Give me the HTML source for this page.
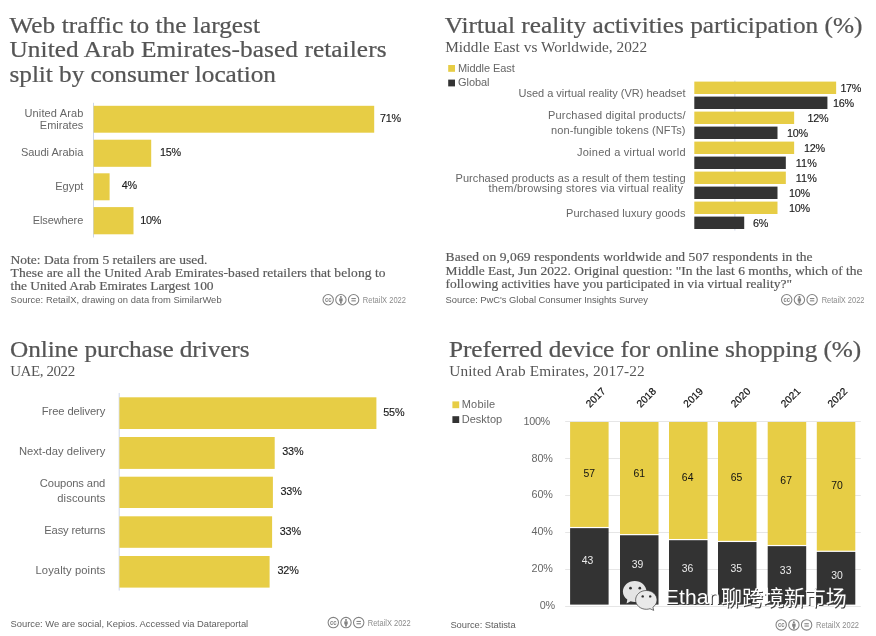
<!DOCTYPE html>
<html lang="en">
<head>
<meta charset="utf-8">
<title>UAE ecommerce charts</title>
<style>
html,body{margin:0;padding:0;background:#ffffff;}
body{width:876px;height:636px;overflow:hidden;}
svg{display:block;}
text{white-space:pre;}
.t{font-family:"Liberation Serif","DejaVu Serif",serif;}
.s{font-family:"Liberation Sans","DejaVu Sans",sans-serif;}
.wm{font-family:"Liberation Sans","Noto Sans CJK SC","WenQuanYi Zen Hei",sans-serif;}
</style>
</head>
<body>
<svg width="876" height="636" viewBox="0 0 876 636">
<rect x="0" y="0" width="876" height="636" fill="#ffffff"/>
<g id="panel-web-traffic">
<text class="t" transform="translate(9.50,32.70) scale(1,0.94)" x="0" y="0" font-size="25.3" fill="#555555" stroke="#555555" stroke-width="0.25" textLength="250.5" lengthAdjust="spacing">Web traffic to the largest</text>
<text class="t" transform="translate(9.50,57.20) scale(1,0.94)" x="0" y="0" font-size="25.3" fill="#555555" stroke="#555555" stroke-width="0.25" textLength="377.0" lengthAdjust="spacing">United Arab Emirates-based retailers</text>
<text class="t" transform="translate(9.50,81.80) scale(1,0.94)" x="0" y="0" font-size="25.3" fill="#555555" stroke="#555555" stroke-width="0.25" textLength="266.5" lengthAdjust="spacing">split by consumer location</text>
<line x1="93.50" y1="102.80" x2="93.50" y2="237.50" stroke="#ccd6eb" stroke-width="1"/>
<rect x="93.60" y="105.80" width="280.60" height="26.90" fill="#e7cd45"/>
<text class="s" x="380.00" y="121.50" font-size="10.8" fill="#1c1c1c" textLength="21.0" lengthAdjust="spacing" stroke="#1c1c1c" stroke-width="0.15">71%</text>
<rect x="93.60" y="139.70" width="57.60" height="27.10" fill="#e7cd45"/>
<text class="s" x="160.00" y="155.50" font-size="10.8" fill="#1c1c1c" textLength="21.0" lengthAdjust="spacing" stroke="#1c1c1c" stroke-width="0.15">15%</text>
<rect x="93.60" y="173.30" width="16.00" height="27.00" fill="#e7cd45"/>
<text class="s" x="121.70" y="189.10" font-size="10.8" fill="#1c1c1c" textLength="15.4" lengthAdjust="spacing" stroke="#1c1c1c" stroke-width="0.15">4%</text>
<rect x="93.60" y="207.10" width="39.90" height="27.20" fill="#e7cd45"/>
<text class="s" x="140.30" y="224.00" font-size="10.8" fill="#1c1c1c" textLength="21.0" lengthAdjust="spacing" stroke="#1c1c1c" stroke-width="0.15">10%</text>
<text class="s" x="24.50" y="117.30" font-size="11" fill="#666666" textLength="58.8" lengthAdjust="spacing">United Arab</text>
<text class="s" x="39.80" y="128.90" font-size="11" fill="#666666" textLength="43.5" lengthAdjust="spacing">Emirates</text>
<text class="s" x="20.90" y="156.40" font-size="11" fill="#666666" textLength="62.4" lengthAdjust="spacing">Saudi Arabia</text>
<text class="s" x="55.30" y="189.90" font-size="11" fill="#666666" textLength="28.0" lengthAdjust="spacing">Egypt</text>
<text class="s" x="32.70" y="223.70" font-size="11" fill="#666666" textLength="50.6" lengthAdjust="spacing">Elsewhere</text>
<text class="t" x="10.60" y="263.50" font-size="13.5" fill="#5a5a5a" textLength="196.7" lengthAdjust="spacing" stroke="#5a5a5a" stroke-width="0.2">Note: Data from 5 retailers are used.</text>
<text class="t" x="10.60" y="276.70" font-size="13.5" fill="#5a5a5a" textLength="375.0" lengthAdjust="spacing" stroke="#5a5a5a" stroke-width="0.2">These are all the United Arab Emirates-based retailers that belong to</text>
<text class="t" x="10.60" y="289.80" font-size="13.5" fill="#5a5a5a" textLength="203.0" lengthAdjust="spacing" stroke="#5a5a5a" stroke-width="0.2">the United Arab Emirates Largest 100</text>
<text class="s" x="10.60" y="302.80" font-size="9.4" fill="#606060" textLength="211.0" lengthAdjust="spacing">Source: RetailX, drawing on data from SimilarWeb</text>
<g fill="none" stroke="#828282" stroke-width="1.05">
<circle cx="328.20" cy="299.70" r="5.2"/>
<circle cx="340.90" cy="299.70" r="5.2"/>
<circle cx="353.60" cy="299.70" r="5.2"/>
</g>
<text class="s" x="324.90" y="301.70" font-size="6.6" font-weight="bold" fill="#828282" textLength="6.6" lengthAdjust="spacingAndGlyphs">cc</text>
<g fill="#828282"><circle cx="340.90" cy="297.10" r="1.0"/><rect x="339.20" y="298.30" width="3.4" height="3.3" rx="0.5"/><rect x="340.00" y="301.20" width="1.8" height="2.4"/></g>
<g fill="#828282"><rect x="351.40" y="298.00" width="4.4" height="1.1"/><rect x="351.40" y="300.30" width="4.4" height="1.1"/></g>
<text class="s" x="362.80" y="302.80" font-size="9.0" fill="#8c8c8c" textLength="43.2" lengthAdjust="spacingAndGlyphs">RetailX 2022</text>
</g>
<g id="panel-vr">
<text class="t" transform="translate(444.80,33.20) scale(1,0.94)" x="0" y="0" font-size="25.3" fill="#555555" stroke="#555555" stroke-width="0.25" textLength="417.7" lengthAdjust="spacing">Virtual reality activities participation (%)</text>
<text class="t" x="445.20" y="52.00" font-size="15.3" fill="#555555" textLength="202.0" lengthAdjust="spacing">Middle East vs Worldwide, 2022</text>
<rect x="448.20" y="65.00" width="6.80" height="6.80" fill="#e7cd45"/>
<text class="s" x="458.00" y="72.30" font-size="11" fill="#666666" textLength="56.8" lengthAdjust="spacing">Middle East</text>
<rect x="448.20" y="79.60" width="6.80" height="6.80" fill="#333333"/>
<text class="s" x="458.00" y="86.30" font-size="11" fill="#666666" textLength="31.5" lengthAdjust="spacing">Global</text>
<line x1="734.90" y1="80.60" x2="734.90" y2="230.50" stroke="#cbd5ec" stroke-width="1"/>
<rect x="694.30" y="81.60" width="141.84" height="12.40" fill="#e7cd45"/>
<text class="s" x="840.40" y="92.00" font-size="10.8" fill="#1c1c1c" textLength="21.0" lengthAdjust="spacing" stroke="#1c1c1c" stroke-width="0.15">17%</text>
<rect x="694.30" y="96.60" width="133.12" height="12.40" fill="#333333"/>
<text class="s" x="833.00" y="107.00" font-size="10.8" fill="#1c1c1c" textLength="21.0" lengthAdjust="spacing" stroke="#1c1c1c" stroke-width="0.15">16%</text>
<rect x="694.30" y="111.60" width="99.84" height="12.40" fill="#e7cd45"/>
<text class="s" x="807.60" y="122.00" font-size="10.8" fill="#1c1c1c" textLength="21.0" lengthAdjust="spacing" stroke="#1c1c1c" stroke-width="0.15">12%</text>
<rect x="694.30" y="126.60" width="83.20" height="12.40" fill="#333333"/>
<text class="s" x="787.00" y="137.00" font-size="10.8" fill="#1c1c1c" textLength="21.0" lengthAdjust="spacing" stroke="#1c1c1c" stroke-width="0.15">10%</text>
<rect x="694.30" y="141.60" width="99.84" height="12.40" fill="#e7cd45"/>
<text class="s" x="804.00" y="152.00" font-size="10.8" fill="#1c1c1c" textLength="21.0" lengthAdjust="spacing" stroke="#1c1c1c" stroke-width="0.15">12%</text>
<rect x="694.30" y="156.60" width="91.52" height="12.40" fill="#333333"/>
<text class="s" x="795.80" y="167.00" font-size="10.8" fill="#1c1c1c" textLength="21.0" lengthAdjust="spacing" stroke="#1c1c1c" stroke-width="0.15">11%</text>
<rect x="694.30" y="171.60" width="91.52" height="12.40" fill="#e7cd45"/>
<text class="s" x="795.80" y="182.00" font-size="10.8" fill="#1c1c1c" textLength="21.0" lengthAdjust="spacing" stroke="#1c1c1c" stroke-width="0.15">11%</text>
<rect x="694.30" y="186.60" width="83.20" height="12.40" fill="#333333"/>
<text class="s" x="789.00" y="197.00" font-size="10.8" fill="#1c1c1c" textLength="21.0" lengthAdjust="spacing" stroke="#1c1c1c" stroke-width="0.15">10%</text>
<rect x="694.30" y="201.60" width="83.20" height="12.40" fill="#e7cd45"/>
<text class="s" x="789.00" y="212.00" font-size="10.8" fill="#1c1c1c" textLength="21.0" lengthAdjust="spacing" stroke="#1c1c1c" stroke-width="0.15">10%</text>
<rect x="694.30" y="216.60" width="49.92" height="12.40" fill="#333333"/>
<text class="s" x="753.00" y="227.00" font-size="10.8" fill="#1c1c1c" textLength="15.4" lengthAdjust="spacing" stroke="#1c1c1c" stroke-width="0.15">6%</text>
<text class="s" x="518.50" y="97.00" font-size="11" fill="#666666" textLength="167.0" lengthAdjust="spacing">Used a virtual reality (VR) headset</text>
<text class="s" x="548.00" y="119.00" font-size="11" fill="#666666" textLength="137.5" lengthAdjust="spacing">Purchased digital products/</text>
<text class="s" x="551.00" y="133.80" font-size="11" fill="#666666" textLength="134.5" lengthAdjust="spacing">non-fungible tokens (NFTs)</text>
<text class="s" x="577.00" y="156.00" font-size="11" fill="#666666" textLength="108.5" lengthAdjust="spacing">Joined a virtual world</text>
<text class="s" x="455.50" y="181.60" font-size="11" fill="#666666" textLength="230.0" lengthAdjust="spacing">Purchased products as a result of them testing</text>
<text class="s" x="488.40" y="192.40" font-size="11" fill="#666666" textLength="194.6" lengthAdjust="spacing">them/browsing stores via virtual reality</text>
<text class="s" x="566.00" y="217.00" font-size="11" fill="#666666" textLength="119.5" lengthAdjust="spacing">Purchased luxury goods</text>
<text class="t" x="445.60" y="261.40" font-size="13.5" fill="#5a5a5a" textLength="367.0" lengthAdjust="spacing" stroke="#5a5a5a" stroke-width="0.2">Based on 9,069 respondents worldwide and 507 respondents in the</text>
<text class="t" x="445.60" y="274.70" font-size="13.5" fill="#5a5a5a" textLength="417.0" lengthAdjust="spacing" stroke="#5a5a5a" stroke-width="0.2">Middle East, Jun 2022. Original question: "In the last 6 months, which of the</text>
<text class="t" x="445.60" y="288.40" font-size="13.5" fill="#5a5a5a" textLength="346.4" lengthAdjust="spacing" stroke="#5a5a5a" stroke-width="0.2">following activities have you participated in via virtual reality?"</text>
<text class="s" x="445.60" y="302.80" font-size="9.4" fill="#606060" textLength="202.4" lengthAdjust="spacing">Source: PwC's Global Consumer Insights Survey</text>
<g fill="none" stroke="#828282" stroke-width="1.05">
<circle cx="786.70" cy="299.70" r="5.2"/>
<circle cx="799.40" cy="299.70" r="5.2"/>
<circle cx="812.10" cy="299.70" r="5.2"/>
</g>
<text class="s" x="783.40" y="301.70" font-size="6.6" font-weight="bold" fill="#828282" textLength="6.6" lengthAdjust="spacingAndGlyphs">cc</text>
<g fill="#828282"><circle cx="799.40" cy="297.10" r="1.0"/><rect x="797.70" y="298.30" width="3.4" height="3.3" rx="0.5"/><rect x="798.50" y="301.20" width="1.8" height="2.4"/></g>
<g fill="#828282"><rect x="809.90" y="298.00" width="4.4" height="1.1"/><rect x="809.90" y="300.30" width="4.4" height="1.1"/></g>
<text class="s" x="821.70" y="302.80" font-size="9.0" fill="#8c8c8c" textLength="42.8" lengthAdjust="spacingAndGlyphs">RetailX 2022</text>
</g>
<g id="panel-drivers">
<text class="t" transform="translate(10.00,356.60) scale(1,0.94)" x="0" y="0" font-size="25.3" fill="#555555" stroke="#555555" stroke-width="0.25" textLength="239.5" lengthAdjust="spacing">Online purchase drivers</text>
<text class="t" x="10.20" y="375.80" font-size="15.0" fill="#555555" textLength="65.0" lengthAdjust="spacing">UAE, 2022</text>
<line x1="119.20" y1="393.00" x2="119.20" y2="590.60" stroke="#ccd6eb" stroke-width="1"/>
<rect x="119.40" y="397.30" width="257.00" height="31.70" fill="#e7cd45"/>
<text class="s" x="383.20" y="415.65" font-size="10.8" fill="#1c1c1c" textLength="21.4" lengthAdjust="spacing" stroke="#1c1c1c" stroke-width="0.15">55%</text>
<text class="s" x="41.80" y="415.25" font-size="11.2" fill="#666666" textLength="63.5" lengthAdjust="spacing">Free delivery</text>
<rect x="119.40" y="437.00" width="155.30" height="31.90" fill="#e7cd45"/>
<text class="s" x="282.20" y="455.45" font-size="10.8" fill="#1c1c1c" textLength="21.4" lengthAdjust="spacing" stroke="#1c1c1c" stroke-width="0.15">33%</text>
<text class="s" x="18.90" y="455.05" font-size="11.2" fill="#666666" textLength="86.4" lengthAdjust="spacing">Next-day delivery</text>
<rect x="119.40" y="476.70" width="153.50" height="31.30" fill="#e7cd45"/>
<text class="s" x="280.40" y="494.85" font-size="10.8" fill="#1c1c1c" textLength="21.4" lengthAdjust="spacing" stroke="#1c1c1c" stroke-width="0.15">33%</text>
<rect x="119.40" y="516.30" width="152.70" height="31.50" fill="#e7cd45"/>
<text class="s" x="279.70" y="534.55" font-size="10.8" fill="#1c1c1c" textLength="21.4" lengthAdjust="spacing" stroke="#1c1c1c" stroke-width="0.15">33%</text>
<text class="s" x="44.30" y="534.15" font-size="11.2" fill="#666666" textLength="61.0" lengthAdjust="spacing">Easy returns</text>
<rect x="119.40" y="556.00" width="150.20" height="31.60" fill="#e7cd45"/>
<text class="s" x="277.40" y="574.30" font-size="10.8" fill="#1c1c1c" textLength="21.4" lengthAdjust="spacing" stroke="#1c1c1c" stroke-width="0.15">32%</text>
<text class="s" x="35.50" y="573.90" font-size="11.2" fill="#666666" textLength="69.8" lengthAdjust="spacing">Loyalty points</text>
<text class="s" x="39.80" y="487.20" font-size="11.2" fill="#666666" textLength="65.5" lengthAdjust="spacing">Coupons and</text>
<text class="s" x="57.30" y="501.80" font-size="11.2" fill="#666666" textLength="48.0" lengthAdjust="spacing">discounts</text>
<text class="s" x="10.60" y="627.00" font-size="9.4" fill="#606060" textLength="237.6" lengthAdjust="spacing">Source: We are social, Kepios. Accessed via Datareportal</text>
<g fill="none" stroke="#828282" stroke-width="1.05">
<circle cx="333.30" cy="622.60" r="5.2"/>
<circle cx="346.00" cy="622.60" r="5.2"/>
<circle cx="358.70" cy="622.60" r="5.2"/>
</g>
<text class="s" x="330.00" y="624.60" font-size="6.6" font-weight="bold" fill="#828282" textLength="6.6" lengthAdjust="spacingAndGlyphs">cc</text>
<g fill="#828282"><circle cx="346.00" cy="620.00" r="1.0"/><rect x="344.30" y="621.20" width="3.4" height="3.3" rx="0.5"/><rect x="345.10" y="624.10" width="1.8" height="2.4"/></g>
<g fill="#828282"><rect x="356.50" y="620.90" width="4.4" height="1.1"/><rect x="356.50" y="623.20" width="4.4" height="1.1"/></g>
<text class="s" x="367.80" y="625.70" font-size="9.0" fill="#8c8c8c" textLength="42.9" lengthAdjust="spacingAndGlyphs">RetailX 2022</text>
</g>
<g id="panel-device">
<text class="t" transform="translate(449.00,357.00) scale(1,0.94)" x="0" y="0" font-size="25.3" fill="#555555" stroke="#555555" stroke-width="0.25" textLength="412.3" lengthAdjust="spacing">Preferred device for online shopping (%)</text>
<text class="t" x="449.20" y="375.90" font-size="15.3" fill="#555555" textLength="195.5" lengthAdjust="spacing">United Arab Emirates, 2017-22</text>
<rect x="452.40" y="401.40" width="6.80" height="6.80" fill="#e7cd45"/>
<text class="s" x="461.70" y="408.30" font-size="11" fill="#666666" textLength="33.5" lengthAdjust="spacing">Mobile</text>
<rect x="452.40" y="416.20" width="6.80" height="6.80" fill="#333333"/>
<text class="s" x="461.70" y="423.40" font-size="11" fill="#666666" textLength="40.5" lengthAdjust="spacing">Desktop</text>
<line x1="565.20" y1="421.50" x2="860.80" y2="421.50" stroke="#e6e6e6" stroke-width="1"/>
<text class="s" x="523.50" y="424.80" font-size="10.8" fill="#666666" textLength="26.7" lengthAdjust="spacing">100%</text>
<line x1="565.20" y1="458.50" x2="860.80" y2="458.50" stroke="#e6e6e6" stroke-width="1"/>
<text class="s" x="531.60" y="461.62" font-size="10.8" fill="#666666" textLength="21.2" lengthAdjust="spacing">80%</text>
<line x1="565.20" y1="495.50" x2="860.80" y2="495.50" stroke="#e6e6e6" stroke-width="1"/>
<text class="s" x="531.60" y="498.44" font-size="10.8" fill="#666666" textLength="21.2" lengthAdjust="spacing">60%</text>
<line x1="565.20" y1="532.50" x2="860.80" y2="532.50" stroke="#e6e6e6" stroke-width="1"/>
<text class="s" x="531.60" y="535.26" font-size="10.8" fill="#666666" textLength="21.2" lengthAdjust="spacing">40%</text>
<line x1="565.20" y1="569.50" x2="860.80" y2="569.50" stroke="#e6e6e6" stroke-width="1"/>
<text class="s" x="531.60" y="572.08" font-size="10.8" fill="#666666" textLength="21.2" lengthAdjust="spacing">20%</text>
<line x1="565.20" y1="606.50" x2="860.80" y2="606.50" stroke="#e6e6e6" stroke-width="1"/>
<text class="s" x="539.80" y="608.90" font-size="10.8" fill="#666666" textLength="15.4" lengthAdjust="spacing">0%</text>
<rect x="570.10" y="422.00" width="38.50" height="104.95" fill="#e7cd45"/>
<rect x="570.10" y="528.15" width="38.50" height="76.45" fill="#333333"/>
<text class="s" x="589.35" y="476.70" font-size="10.4" fill="#111111" text-anchor="middle">57</text>
<text class="s" x="587.55" y="563.70" font-size="10.4" fill="#ebebeb" text-anchor="middle">43</text>
<text class="s" font-size="10.3" fill="#111111" stroke="#111111" stroke-width="0.2" text-anchor="middle" transform="translate(595.5,397.4) rotate(-45)" x="0" y="3.7">2017</text>
<rect x="620.00" y="422.00" width="38.50" height="112.05" fill="#e7cd45"/>
<rect x="620.00" y="535.25" width="38.50" height="69.35" fill="#333333"/>
<text class="s" x="639.25" y="476.70" font-size="10.4" fill="#111111" text-anchor="middle">61</text>
<text class="s" x="637.45" y="567.70" font-size="10.4" fill="#ebebeb" text-anchor="middle">39</text>
<text class="s" font-size="10.3" fill="#111111" stroke="#111111" stroke-width="0.2" text-anchor="middle" transform="translate(646.2,397.4) rotate(-45)" x="0" y="3.7">2018</text>
<rect x="669.00" y="422.00" width="38.50" height="117.00" fill="#e7cd45"/>
<rect x="669.00" y="540.20" width="38.50" height="64.40" fill="#333333"/>
<text class="s" x="687.65" y="480.70" font-size="10.4" fill="#111111" text-anchor="middle">64</text>
<text class="s" x="687.55" y="571.70" font-size="10.4" fill="#ebebeb" text-anchor="middle">36</text>
<text class="s" font-size="10.3" fill="#111111" stroke="#111111" stroke-width="0.2" text-anchor="middle" transform="translate(693.1,397.4) rotate(-45)" x="0" y="3.7">2019</text>
<rect x="718.00" y="422.00" width="38.50" height="118.85" fill="#e7cd45"/>
<rect x="718.00" y="542.05" width="38.50" height="62.55" fill="#333333"/>
<text class="s" x="736.45" y="480.70" font-size="10.4" fill="#111111" text-anchor="middle">65</text>
<text class="s" x="736.35" y="571.70" font-size="10.4" fill="#ebebeb" text-anchor="middle">35</text>
<text class="s" font-size="10.3" fill="#111111" stroke="#111111" stroke-width="0.2" text-anchor="middle" transform="translate(740.5,397.4) rotate(-45)" x="0" y="3.7">2020</text>
<rect x="767.70" y="422.00" width="38.50" height="122.95" fill="#e7cd45"/>
<rect x="767.70" y="546.15" width="38.50" height="58.45" fill="#333333"/>
<text class="s" x="786.15" y="484.20" font-size="10.4" fill="#111111" text-anchor="middle">67</text>
<text class="s" x="785.65" y="574.20" font-size="10.4" fill="#ebebeb" text-anchor="middle">33</text>
<text class="s" font-size="10.3" fill="#111111" stroke="#111111" stroke-width="0.2" text-anchor="middle" transform="translate(790.5,397.4) rotate(-45)" x="0" y="3.7">2021</text>
<rect x="816.80" y="422.00" width="38.50" height="128.70" fill="#e7cd45"/>
<rect x="816.80" y="551.90" width="38.50" height="52.70" fill="#333333"/>
<text class="s" x="837.05" y="489.30" font-size="10.4" fill="#111111" text-anchor="middle">70</text>
<text class="s" x="837.05" y="578.70" font-size="10.4" fill="#ebebeb" text-anchor="middle">30</text>
<text class="s" font-size="10.3" fill="#111111" stroke="#111111" stroke-width="0.2" text-anchor="middle" transform="translate(837.3,397.4) rotate(-45)" x="0" y="3.7">2022</text>
<text class="s" x="450.40" y="628.40" font-size="9.4" fill="#606060" textLength="65.2" lengthAdjust="spacing">Source: Statista</text>
<g fill="none" stroke="#828282" stroke-width="1.05">
<circle cx="781.20" cy="624.90" r="5.2"/>
<circle cx="793.90" cy="624.90" r="5.2"/>
<circle cx="806.60" cy="624.90" r="5.2"/>
</g>
<text class="s" x="777.90" y="626.90" font-size="6.6" font-weight="bold" fill="#828282" textLength="6.6" lengthAdjust="spacingAndGlyphs">cc</text>
<g fill="#828282"><circle cx="793.90" cy="622.30" r="1.0"/><rect x="792.20" y="623.50" width="3.4" height="3.3" rx="0.5"/><rect x="793.00" y="626.40" width="1.8" height="2.4"/></g>
<g fill="#828282"><rect x="804.40" y="623.20" width="4.4" height="1.1"/><rect x="804.40" y="625.50" width="4.4" height="1.1"/></g>
<text class="s" x="816.00" y="628.00" font-size="9.0" fill="#8c8c8c" textLength="43.0" lengthAdjust="spacingAndGlyphs">RetailX 2022</text>
<g id="watermark">
<g>
<path d="M634.7 580.9 C628.2 580.9 622.9 585.6 622.9 591.4 C622.9 594.7 624.6 597.6 627.3 599.5 L626.6 603.6 L630.6 601.3 C631.9 601.7 633.3 601.9 634.7 601.9 C641.2 601.9 646.5 597.2 646.5 591.4 C646.5 585.6 641.2 580.9 634.7 580.9 Z" fill="#e4e4e4"/>
<circle cx="630.5" cy="588.2" r="1.35" fill="#2e2e2e"/><circle cx="639.8" cy="588.2" r="1.35" fill="#2e2e2e"/>
<path d="M646.3 590.5 C640.4 590.5 635.6 594.7 635.6 599.9 C635.6 605.1 640.4 609.3 646.3 609.3 C647.6 609.3 648.8 609.1 650.0 608.7 L653.7 610.4 L652.9 607.2 C655.4 605.5 657.0 602.9 657.0 599.9 C657.0 594.7 652.2 590.5 646.3 590.5 Z" fill="#e9e9e9" stroke="#3a3a3a" stroke-width="0.7"/>
<circle cx="642.7" cy="596.4" r="1.2" fill="#2e2e2e"/><circle cx="650.2" cy="596.4" r="1.2" fill="#2e2e2e"/>
</g>
<text class="wm" font-size="21" fill="#ffffff" style="filter:drop-shadow(1px 1px 0px #404040)"><tspan x="664.7" y="604.3" textLength="55.6" lengthAdjust="spacing">Ethan</tspan><tspan x="721.0" y="604.8" textLength="125.8" lengthAdjust="spacing">聊跨境新市场</tspan></text>
</g>
</g>
</svg>
</body>
</html>
